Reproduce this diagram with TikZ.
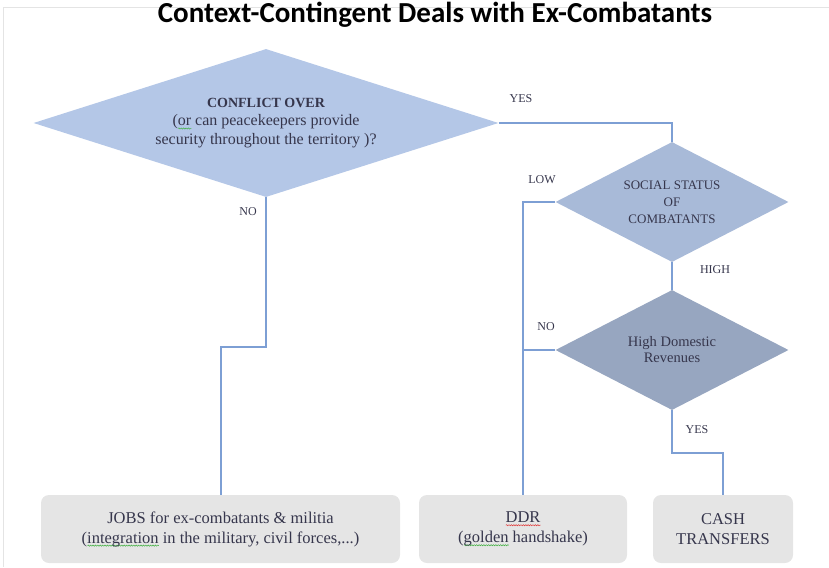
\documentclass[tikz,border=0pt]{standalone}
\usepackage{fontspec}
\setmainfont{Liberation Serif}
\newfontfamily\titlefont{Carlito}
\usetikzlibrary{shapes.geometric,decorations.pathmorphing}

\definecolor{conflictblue}{HTML}{B4C7E7}
\definecolor{statusblue}{HTML}{A8BAD8}
\definecolor{revenueslate}{HTML}{97A6C0}
\definecolor{boxgray}{HTML}{E5E5E5}
\definecolor{linkblue}{HTML}{7D9FD4}
\definecolor{txtgray}{HTML}{36364C}
\definecolor{framegray}{HTML}{E4E4E4}
\definecolor{wavegreen}{HTML}{3FAF3F}
\definecolor{wavered}{HTML}{E03030}

\newsavebox\wavebox
\newcommand\spellwave[2]{\sbox\wavebox{#2}\leavevmode
  \makebox[0pt][l]{\tikz[baseline=0pt]\draw[#1,sharp corners,line width=.5pt,decorate,
    decoration={snake,amplitude=.6pt,segment length=2.4pt}]
    (0pt,-2.6pt) -- (\the\wd\wavebox,-2.6pt);}\usebox\wavebox}

\begin{document}
\begin{tikzpicture}[x=1pt,y=-1pt,
  decision/.style={diamond,draw=none,inner sep=0pt,align=center,text=txtgray},
  dealbox/.style={rectangle,rounded corners=8pt,fill=boxgray,minimum width=#1,
    minimum height=68pt,align=center,text=txtgray,font=\fontsize{16.5}{20}\selectfont},
  flowline/.style={draw=linkblue,line width=2pt},
  answer/.style={text=txtgray,font=\fontsize{12}{14}\selectfont}]

\useasboundingbox (0,0) rectangle (829,567);
\draw[framegray,line width=0.8pt] (3,567) -- (3,7) -- (829,7);

\node[font=\titlefont\bfseries\fontsize{29}{32}\selectfont] (title) at (435,15)
  {Context-Contingent Deals with Ex-Combatants};

% decisions
\node[decision,fill=conflictblue,minimum width=465pt,minimum height=148pt,
  shape aspect=3.14,font=\fontsize{16}{18.5}\selectfont] (conflict) at (266,123)
  {{\bfseries\fontsize{14}{18.5}\selectfont CONFLICT OVER}\\
   (\spellwave{wavegreen}{or} can peacekeepers provide\\
   security throughout the territory )?};
\node[decision,fill=statusblue,minimum width=233pt,minimum height=120pt,
  shape aspect=1.94,font=\fontsize{13}{17}\selectfont] (status) at (672,202)
  {SOCIAL STATUS\\OF\\COMBATANTS};
\node[decision,fill=revenueslate,minimum width=233pt,minimum height=120pt,
  shape aspect=1.94,font=\fontsize{14.5}{16}\selectfont] (revenue) at (672,350)
  {High Domestic\\Revenues};

% outcomes
\node[dealbox=359pt] (jobs) at (220.5,529)
  {JOBS for ex-combatants \& militia\\
   (\spellwave{wavegreen}{integration} in the military, civil forces,...)};
\node[dealbox=208pt] (ddr) at (523,529)
  {\spellwave{wavered}{DDR}\\(\spellwave{wavegreen}{golden} handshake)};
\node[dealbox=140pt] (cash) at (723,529) {CASH\\TRANSFERS};

% connectors
\draw[flowline] (conflict.east) -| (status.north);
\draw[flowline] (conflict.south) -- ++(0,150) -| (jobs.north);
\draw[flowline] (status.west) -| (ddr.north);
\draw[flowline] (status.south) -- (revenue.north);
\draw[flowline] (revenue.west) -- (revenue.west -| ddr.north);
\draw[flowline] (revenue.south) -- ++(0,43) -| (cash.north);

% answers
\node[answer] (yesconflict) at (521,99) {YES};
\node[answer] (noconflict) at (248,212) {NO};
\node[answer] (lowstatus) at (542,180) {LOW};
\node[answer] (highstatus) at (715,270) {HIGH};
\node[answer] (norevenue) at (546,327) {NO};
\node[answer] (yesrevenue) at (697,430) {YES};

\end{tikzpicture}
\end{document}
